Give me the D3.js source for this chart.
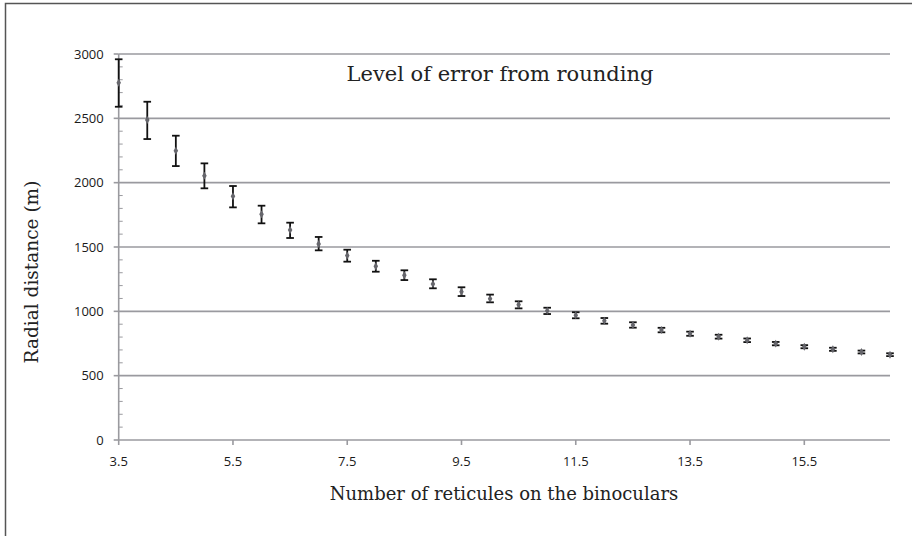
<!DOCTYPE html>
<html>
<head>
<meta charset="utf-8">
<script src="https://cdn.jsdelivr.net/npm/d3@7"></script>
<style>
  html, body { margin: 0; padding: 0; background: #fff; }
  svg { display: block; }
</style>
</head>
<body>
<svg id="chart" width="912" height="536"></svg>
<script>
// Number of reticules read on the binoculars
const reticules = [3.5, 4, 4.5, 5, 5.5, 6, 6.5, 7, 7.5, 8, 8.5, 9, 9.5, 10,
  10.5, 11, 11.5, 12, 12.5, 13, 13.5, 14, 14.5, 15, 15.5, 16, 16.5, 17];
// Radial distance (m) for each reading
const distance = [2777, 2487, 2248, 2054, 1894, 1754, 1632, 1523, 1433, 1350,
  1280, 1212, 1153, 1098, 1052, 1005, 970, 927, 894, 855, 826, 803, 775, 749,
  725, 705, 684, 663];
// Error from rounding: upper and lower extent (m)
const errUp = [182, 142, 117, 96, 80, 67, 57, 55, 46, 43, 39, 37, 34, 32, 26,
  23, 23, 21, 21, 17, 16, 15, 14, 13, 12, 12, 11, 11];
const errDown = [187, 148, 119, 98, 86, 70, 62, 49, 47, 42, 37, 33, 34, 28, 29,
  26, 24, 23, 21, 18, 16, 15, 14, 13, 12, 12, 11, 11];
const xTicks = [3.5, 5.5, 7.5, 9.5, 11.5, 13.5, 15.5];
const yTicks = [0, 500, 1000, 1500, 2000, 2500, 3000];

(function () {
  const svg = d3.select("#chart");
  const plotLeft = 118.7, plotRight = 890, plotTop = 54, plotBottom = 440;

  const x = d3.scaleLinear().domain([3.5, 17]).range([plotLeft, plotRight]);
  const y = d3.scaleLinear().domain([0, 3000]).range([plotBottom, plotTop]);

  // outer frame
  svg.append("rect")
    .attr("x", 5.5).attr("y", 3.5)
    .attr("width", 1000).attr("height", 1000)
    .attr("fill", "none").attr("stroke", "#555").attr("stroke-width", 1.5);

  const gridColor = "#9a9a9f";

  // horizontal gridlines
  svg.append("g")
    .selectAll("line")
    .data(yTicks.filter(d => d > 0))
    .join("line")
    .attr("x1", plotLeft).attr("x2", plotRight)
    .attr("y1", d => y(d)).attr("y2", d => y(d))
    .attr("stroke", gridColor).attr("stroke-width", 1.6);

  // y axis with minor ticks every 100 m
  const yAxis = svg.append("g").attr("transform", `translate(${plotLeft},0)`);
  yAxis.append("line")
    .attr("x1", 0).attr("x2", 0).attr("y1", y(0)).attr("y2", y(3000))
    .attr("stroke", gridColor).attr("stroke-width", 1.6);
  yAxis.selectAll("line.minor")
    .data(d3.range(100, 3000, 100).filter(d => d % 500 !== 0))
    .join("line").attr("class", "minor")
    .attr("x1", 0).attr("x2", 4)
    .attr("y1", d => y(d)).attr("y2", d => y(d))
    .attr("stroke", gridColor).attr("stroke-width", 1);
  yAxis.selectAll("line.major")
    .data(yTicks)
    .join("line").attr("class", "major")
    .attr("x1", -5).attr("x2", 0)
    .attr("y1", d => y(d)).attr("y2", d => y(d))
    .attr("stroke", gridColor).attr("stroke-width", 1.6);
  yAxis.selectAll("text")
    .data(yTicks)
    .join("text")
    .attr("x", -15).attr("y", d => y(d))
    .attr("dy", "0.35em")
    .attr("text-anchor", "end")
    .attr("font-family", "'Open Sans', sans-serif")
    .attr("font-size", 13)
    .attr("fill", "#1a1a1a")
    .text(d => d);

  // x axis
  const xAxis = svg.append("g").attr("transform", `translate(0,${plotBottom})`);
  xAxis.append("line")
    .attr("x1", plotLeft).attr("x2", plotRight).attr("y1", 0).attr("y2", 0)
    .attr("stroke", gridColor).attr("stroke-width", 1.6);
  xAxis.selectAll("line.tick")
    .data(xTicks)
    .join("line").attr("class", "tick")
    .attr("x1", d => x(d)).attr("x2", d => x(d))
    .attr("y1", 0).attr("y2", 5)
    .attr("stroke", gridColor).attr("stroke-width", 1.6);
  xAxis.selectAll("text")
    .data(xTicks)
    .join("text")
    .attr("x", d => x(d)).attr("y", 26)
    .attr("text-anchor", "middle")
    .attr("font-family", "'Open Sans', sans-serif")
    .attr("font-size", 13)
    .attr("fill", "#1a1a1a")
    .text(d => d.toFixed(1));

  // error bars
  const pts = reticules.map((r, i) => ({ r, d: distance[i], up: errUp[i], down: errDown[i] }));
  const bars = svg.append("g").attr("stroke", "#111").attr("stroke-width", 1.8);
  bars.selectAll("line.stem")
    .data(pts).join("line").attr("class", "stem")
    .attr("x1", p => x(p.r)).attr("x2", p => x(p.r))
    .attr("y1", p => y(p.d + p.up)).attr("y2", p => y(p.d - p.down));
  bars.selectAll("line.capTop")
    .data(pts).join("line").attr("class", "capTop")
    .attr("x1", p => x(p.r) - 3.8).attr("x2", p => x(p.r) + 3.8)
    .attr("y1", p => y(p.d + p.up)).attr("y2", p => y(p.d + p.up));
  bars.selectAll("line.capBot")
    .data(pts).join("line").attr("class", "capBot")
    .attr("x1", p => x(p.r) - 3.8).attr("x2", p => x(p.r) + 3.8)
    .attr("y1", p => y(p.d - p.down)).attr("y2", p => y(p.d - p.down));

  // point markers
  svg.append("g")
    .selectAll("path")
    .data(pts).join("path")
    .attr("transform", p => `translate(${x(p.r)},${y(p.d)})`)
    .attr("d", d3.symbol().type(d3.symbolDiamond).size(18))
    .attr("fill", "#66666c");

  // titles
  svg.append("text")
    .attr("x", 500).attr("y", 81)
    .attr("text-anchor", "middle")
    .attr("font-family", "'DejaVu Serif', serif")
    .attr("font-size", 21)
    .attr("fill", "#222")
    .text("Level of error from rounding");

  svg.append("text")
    .attr("x", 504).attr("y", 500)
    .attr("text-anchor", "middle")
    .attr("font-family", "'DejaVu Serif', serif")
    .attr("font-size", 18)
    .attr("fill", "#222")
    .text("Number of reticules on the binoculars");

  svg.append("text")
    .attr("transform", "translate(38,272) rotate(-90)")
    .attr("text-anchor", "middle")
    .attr("font-family", "'DejaVu Serif', serif")
    .attr("font-size", 18.5)
    .attr("fill", "#222")
    .text("Radial distance (m)");
})();
</script>
</body>
</html>
